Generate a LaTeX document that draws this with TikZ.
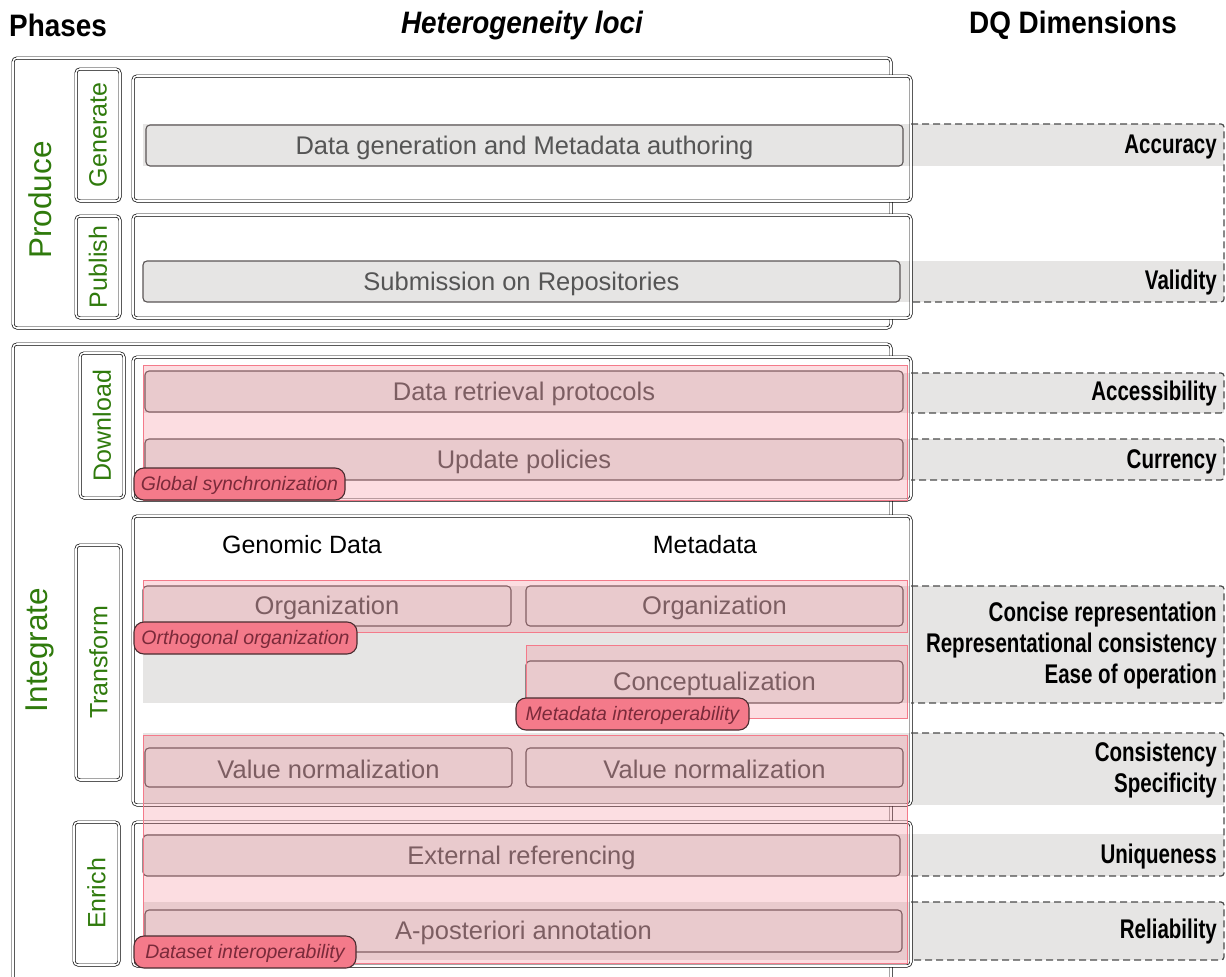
\documentclass[tikz,border=0pt]{standalone}
\usepackage{fontspec}
\setmainfont{Liberation Sans}
\newfontfamily\dqfont[FakeStretch=0.76]{Liberation Sans}
\newfontfamily\headfont[FakeStretch=0.9]{Liberation Sans}
\usetikzlibrary{fit}

\definecolor{phasegreen}{HTML}{2F7A0C}
\definecolor{locigray}{HTML}{E6E5E4}
\definecolor{lociline}{HTML}{5B5656}
\definecolor{locitext}{HTML}{555555}
\definecolor{hetpink}{HTML}{F47A8A}
\definecolor{badgeline}{HTML}{4A2C30}
\definecolor{badgetext}{HTML}{7A2A3A}
\definecolor{dqline}{HTML}{4A4A4A}

\tikzset{
	phase/.style={draw=black, double=white, double distance=1.6pt, line width=0.7pt, rounded corners=4pt, inner sep=0pt},
	steplbl/.style={text=phasegreen, rotate=90, font=\fontsize{25}{30}\selectfont},
	phaselbl/.style={text=phasegreen, rotate=90, font=\fontsize{31.5}{36}\selectfont},
	locus/.style={draw=lociline, fill=locigray, line width=1.1pt, rounded corners=4pt, inner sep=0pt},
	locustxt/.style={text=locitext, yshift=-2pt, font=\fontsize{25.5}{30}\selectfont},
	hetero/.style={fill=hetpink, fill opacity=0.25, draw=hetpink, line width=0.9pt, inner sep=0pt},
	badge/.style={fill=hetpink, draw=badgeline, line width=1.1pt, rounded corners=10pt, inner sep=0pt},
	badgetxt/.style={text=badgetext, yshift=-1.5pt, font=\fontsize{19.5}{23}\selectfont\itshape},
	dqband/.style={fill=locigray},
	dqframe/.style={draw=dqline, line width=1.2pt, dash pattern=on 7pt off 4pt, rounded corners=3pt},
	dq/.style={anchor=east, inner sep=0pt, yshift=-2pt, font=\dqfont\fontsize{27}{31}\selectfont\bfseries},
	head/.style={font=\headfont\fontsize{31}{36}\selectfont\bfseries},
}

\begin{document}
\begin{tikzpicture}[x=1pt, y=-1pt]
	\useasboundingbox (0,0) rectangle (1226,977);
	\clip (0,0) rectangle (1226,977);

	% phases
	\node[phase, fit={(13,58) (891,328)}] (produce) {};
	\node[phase, fit={(13,344) (891,995)}] (integrate) {};
	\node[phaselbl] (produce-lbl) at (40,200) {Produce};
	\node[phaselbl] (integrate-lbl) at (40,650) {Integrate};

	% white grounds of the steps
	\fill[white, rounded corners=4pt] (133,76) rectangle (911,201);
	\fill[white, rounded corners=4pt] (133,215) rectangle (911,318);
	\fill[white, rounded corners=4pt] (133,357) rectangle (911,500);
	\fill[white, rounded corners=4pt] (133,516) rectangle (911,805);
	\fill[white, rounded corners=4pt] (133,822) rectangle (911,966);

	% DQ bands
	\fill[dqband] (143,124) rectangle (1224,166);
	\fill[dqband] (143,261) rectangle (1224,302);
	\fill[dqband] (143,373) rectangle (1224,413);
	\fill[dqband] (143,439) rectangle (1224,480);
	\fill[dqband] (143,586) rectangle (1224,703);
	\fill[dqband] (143,733) rectangle (1224,805);
	\fill[dqband] (143,834) rectangle (1224,876);
	\fill[dqband] (143,902) rectangle (1224,960);

	% steps
	\node[phase, fit={(133,76) (911,201)}] (generate) {};
	\node[phase, fit={(133,215) (911,318)}] (publish) {};
	\node[phase, fit={(133,357) (911,500)}] (download) {};
	\node[phase, fit={(133,516) (911,805)}] (transform) {};
	\node[phase, fit={(133,822) (911,966)}] (enrich) {};

	\node[phase, fit={(76,69) (120,201)}] (generate-box) {};
	\node[phase, fit={(76,216) (120,318)}] (publish-box) {};
	\node[phase, fit={(80,353) (124,498)}] (download-box) {};
	\node[phase, fit={(76,545) (121,780)}] (transform-box) {};
	\node[phase, fit={(74,822) (119,965)}] (enrich-box) {};
	\node[steplbl] at (generate-box.center) {Generate};
	\node[steplbl] at (publish-box.center) {Publish};
	\node[steplbl] at (download-box.center) {Download};
	\node[steplbl] at (transform-box.center) {Transform};
	\node[steplbl] at (enrich-box.center) {Enrich};

	\node[font=\fontsize{25}{30}\selectfont] (genomic) at (302,545) {Genomic Data};
	\node[font=\fontsize{25}{30}\selectfont] (metadata) at (705,545) {Metadata};

	% heterogeneity loci
	\node[locus, fit={(146,125) (903,166)}] (gen) {};
	\node[locus, fit={(143,261) (900,302)}] (sub) {};
	\node[locus, fit={(145,371) (903,412)}] (ret) {};
	\node[locus, fit={(145,439) (903,480)}] (upd) {};
	\node[locus, fit={(143,586) (511,626)}] (org-g) {};
	\node[locus, fit={(526,586) (903,626)}] (org-m) {};
	\node[locus, fit={(526,661) (903,703)}] (concept) {};
	\node[locus, fit={(145,748) (512,787)}] (norm-g) {};
	\node[locus, fit={(526,748) (903,787)}] (norm-m) {};
	\node[locus, fit={(143,835) (900,876)}] (extref) {};
	\node[locus, fit={(145,910) (902,952)}] (apost) {};
	\node[locustxt] at (gen.center) {Data generation and Metadata authoring};
	\node[locustxt] at (sub.center) {Submission on Repositories};
	\node[locustxt] at (ret.center) {Data retrieval protocols};
	\node[locustxt] at (upd.center) {Update policies};
	\node[locustxt] at (org-g.center) {Organization};
	\node[locustxt] at (org-m.center) {Organization};
	\node[locustxt] at (concept.center) {Conceptualization};
	\node[locustxt] at (norm-g.center) {Value normalization};
	\node[locustxt] at (norm-m.center) {Value normalization};
	\node[locustxt] at (extref.center) {External referencing};
	\node[locustxt] at (apost.center) {A-posteriori annotation};

	% heterogeneity areas
	\node[hetero, fit={(143,365) (907,500)}] (sync) {};
	\node[hetero, fit={(143,580) (907,632)}] (orth) {};
	\node[hetero, fit={(526,645) (907,718)}] (metaint) {};
	\node[hetero, fit={(143,735) (907,963)}] (dataint) {};

	\node[badge, fit={(134,468) (345,500)}] (sync-tag) {};
	\node[badge, fit={(134,622) (357,654)}] (orth-tag) {};
	\node[badge, fit={(516,698) (749,730)}] (metaint-tag) {};
	\node[badge, fit={(134,936) (356,968)}] (dataint-tag) {};
	\node[badgetxt] at (sync-tag.center) {Global synchronization};
	\node[badgetxt] at (orth-tag.center) {Orthogonal organization};
	\node[badgetxt] at (metaint-tag.center) {Metadata interoperability};
	\node[badgetxt] at (dataint-tag.center) {Dataset interoperability};

	% DQ dimensions
	\draw[dqframe] (911,124) -- (1224,124) -- (1224,302) -- (911,302);
	\draw[dqframe] (911,373) -- (1224,373) -- (1224,413) -- (911,413);
	\draw[dqframe] (911,439) -- (1224,439) -- (1224,480) -- (911,480);
	\draw[dqframe] (911,586) -- (1224,586) -- (1224,703) -- (911,703);
	\draw[dqframe] (911,733) -- (1224,733) -- (1224,876) -- (911,876);
	\draw[dqframe] (911,902) -- (1224,902) -- (1224,960) -- (911,960);

	\node[dq] (accuracy) at (1217,145) {Accuracy};
	\node[dq] (validity) at (1217,281) {Validity};
	\node[dq] (accessibility) at (1217,392) {Accessibility};
	\node[dq] (currency) at (1217,460) {Currency};
	\node[dq] (concise) at (1217,613) {Concise representation};
	\node[dq] (reprcons) at (1217,644) {Representational consistency};
	\node[dq] (ease) at (1217,675) {Ease of operation};
	\node[dq] (consistency) at (1217,753) {Consistency};
	\node[dq] (specificity) at (1217,784) {Specificity};
	\node[dq] (uniqueness) at (1217,855) {Uniqueness};
	\node[dq] (reliability) at (1217,930) {Reliability};

	% column titles
	\node[head] (phases-title) at (58,25) {Phases};
	\node[head, font=\headfont\fontsize{31}{36}\selectfont\bfseries\itshape] (loci-title) at (522,25) {Heterogeneity loci};
	\node[head] (dq-title) at (1073,25) {DQ Dimensions};
\end{tikzpicture}
\end{document}
